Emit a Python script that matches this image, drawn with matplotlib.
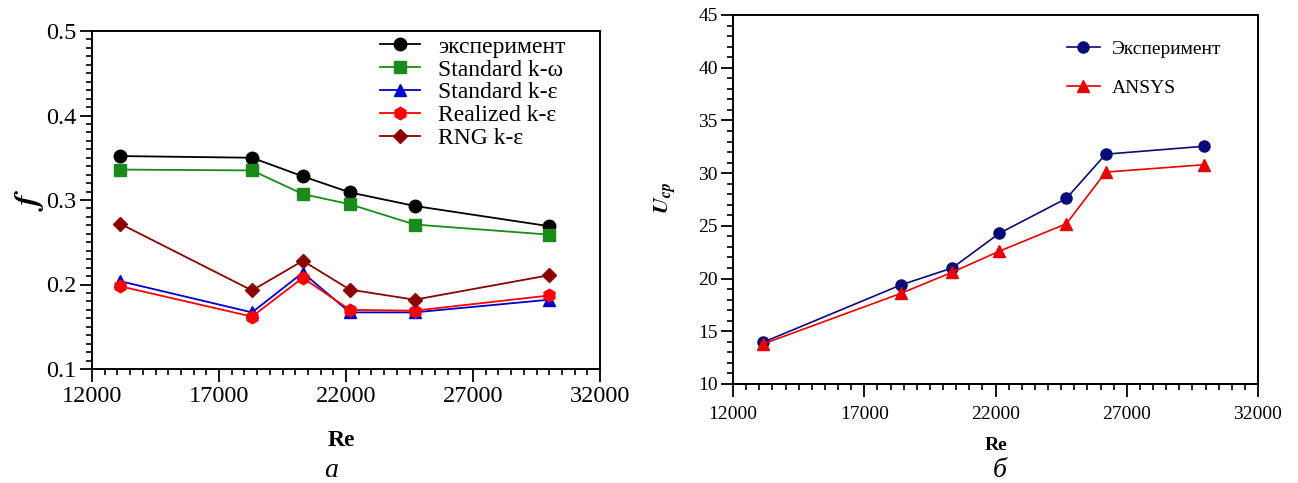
import matplotlib
matplotlib.use("Agg")
import matplotlib.pyplot as plt
from matplotlib.ticker import MultipleLocator

plt.rcParams['font.family'] = ['Liberation Serif', 'DejaVu Serif']
plt.rcParams['mathtext.fontset'] = 'stix'

# ---- data, panel a ----
re_a = [13100, 18300, 20300, 22150, 24700, 30000]
f_exp = [0.352, 0.350, 0.328, 0.309, 0.293, 0.269]
f_kw = [0.336, 0.335, 0.307, 0.295, 0.271, 0.259]
f_ke = [0.204, 0.167, 0.214, 0.167, 0.167, 0.182]
f_real = [0.198, 0.162, 0.208, 0.170, 0.169, 0.187]
f_rng = [0.272, 0.193, 0.228, 0.194, 0.182, 0.211]
labels_a = ['эксперимент', 'Standard k-ω', 'Standard k-ε', 'Realized k-ε', 'RNG k-ε']

# ---- data, panel б ----
re_b = [13150, 18400, 20350, 22150, 24700, 26200, 29950]
u_exp = [13.96, 19.4, 21.0, 24.3, 27.6, 31.8, 32.55]
u_ansys = [13.8, 18.6, 20.6, 22.6, 25.2, 30.1, 30.8]
labels_b = ['Эксперимент', 'ANSYS']

x_ticks = [12000, 17000, 22000, 27000, 32000]
ya_ticks = [0.1, 0.2, 0.3, 0.4, 0.5]
yb_ticks = [10, 15, 20, 25, 30, 35, 40, 45]

W, H = 1298, 483
fig = plt.figure(figsize=(W / 100, H / 100), dpi=100)

def ax_rect(x0, y0, x1, y1):
    return [x0 / W, 1 - y1 / H, (x1 - x0) / W, (y1 - y0) / H]

def style_axes(ax, fs, pad):
    for s in ax.spines.values():
        s.set_linewidth(1.4)
    ax.tick_params(which='major', direction='out', length=9, width=1.3,
                   labelsize=fs, top=False, right=False, pad=2)
    ax.tick_params(axis='x', which='major', pad=pad)
    ax.tick_params(which='minor', direction='out', length=4.5, width=1.2,
                   top=False, right=False)

# ---- panel a ----
axa = fig.add_axes(ax_rect(92, 31, 600, 369))
axa.plot(re_a, f_exp, '-o', color='black', mfc='black', mec='black', ms=9, lw=1.3, label=labels_a[0])
axa.plot(re_a, f_kw, '-s', color='#1a8a1a', mfc='#1a8a1a', mec='#1a8a1a', ms=9, lw=1.3, label=labels_a[1])
axa.plot(re_a, f_ke, '-^', color='#0000c8', mfc='#0000c8', mec='#0000c8', ms=9, lw=1.3, label=labels_a[2])
axa.plot(re_a, f_real, '-h', color='#ff0000', mfc='#ff0000', mec='#ff0000', ms=9, lw=1.3, label=labels_a[3])
axa.plot(re_a, f_rng, '-D', color='#8b0000', mfc='#8b0000', mec='#8b0000', ms=7, lw=1.3, label=labels_a[4])
axa.set_xlim(12000, 32000)
axa.set_ylim(0.1, 0.5)
axa.set_xticks(x_ticks)
axa.xaxis.set_minor_locator(MultipleLocator(500))
axa.set_yticks(ya_ticks)
axa.set_yticklabels([f'{v:.1f}' for v in ya_ticks])
axa.yaxis.set_minor_locator(MultipleLocator(0.01))
style_axes(axa, 17.5, 3)
axa.set_xlabel('Re', fontsize=17, fontweight='bold')
axa.xaxis.set_label_coords((341 - 92) / 508, (369 - 441) / 338)
axa.xaxis.label.set_va('center')
axa.set_ylabel(r'$\mathbfit{f}$', fontsize=24)
axa.yaxis.set_label_coords((30 - 92) / 508, 0.5)
axa.yaxis.label.set_va('center')
axa.legend(loc='upper left', bbox_to_anchor=(0.567, 0.985), frameon=False,
           fontsize=17, borderpad=0, borderaxespad=0, labelspacing=0.06,
           handlelength=1.7, handletextpad=0.75)
fig.text(331 / W, 1 - 477 / H, 'a', fontsize=20, style='italic', ha='center', va='baseline')

# ---- panel б ----
axb = fig.add_axes(ax_rect(733, 15, 1258, 384))
axb.plot(re_b, u_exp, '-o', color='#0a0a78', mfc='#0a0a78', mec='#0a0a78', ms=8, lw=1.2, label=labels_b[0])
axb.plot(re_b, u_ansys, '-^', color='#e60000', mfc='#e60000', mec='#e60000', ms=8, lw=1.2, label=labels_b[1])
axb.set_xlim(12000, 32000)
axb.set_ylim(10, 45)
axb.set_xticks(x_ticks)
axb.xaxis.set_minor_locator(MultipleLocator(500))
axb.set_yticks(yb_ticks)
axb.yaxis.set_minor_locator(MultipleLocator(1))
style_axes(axb, 14, 7)
axb.set_xlabel('Re', fontsize=14, fontweight='bold')
axb.xaxis.set_label_coords((996 - 733) / 525, (384 - 446) / 369)
axb.xaxis.label.set_va('center')
axb.set_ylabel(r'$\mathbfit{U}_{\mathbfit{cp}}$', fontsize=16)
axb.yaxis.set_label_coords((666 - 733) / 525, (384 - 198) / 369)
axb.yaxis.label.set_va('center')
axb.legend(loc='upper left', bbox_to_anchor=(0.636, 0.932), frameon=False,
           fontsize=14, borderpad=0, borderaxespad=0, labelspacing=1.1,
           handlelength=1.7, handletextpad=0.6)
fig.text(1000 / W, 1 - 477 / H, 'б', fontsize=20, style='italic', ha='center', va='baseline')

fig.savefig('out.png', dpi=100)
